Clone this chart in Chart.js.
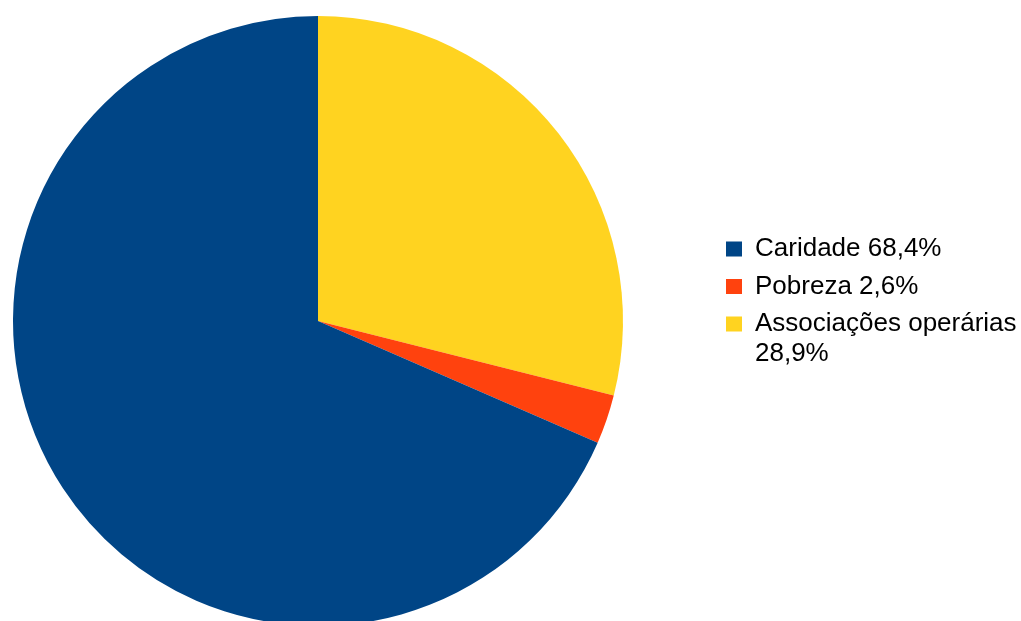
<!DOCTYPE html>
<html>
<head>
<meta charset="utf-8">
<script src="https://cdn.jsdelivr.net/npm/chart.js@4.4.0/dist/chart.umd.min.js"></script>
<style>
  html, body { margin: 0; padding: 0; background: #fff; overflow: hidden; }
  /* a bit taller than the window: the pie is cut off at the bottom in the original */
  #wrap { width: 1021px; height: 626px; position: relative; }
</style>
</head>
<body>
<div id="wrap"><canvas id="pieChart"></canvas></div>
<script>
// slices in clockwise order from 12 o'clock; legend is shown reversed
const categories = ['Associações operárias', 'Pobreza', 'Caridade'];
const shares = [28.9, 2.6, 68.4];
const sliceColors = ['#ffd320', '#ff420e', '#004586'];

function pctText(v) {
    return v.toFixed(1).replace('.', ',') + '%';
}

// the legend sits further right and a bit higher than Chart.js puts it
const legendNudge = {
    id: 'legendNudge',
    afterLayout(chart) {
        const lg = chart.legend;
        lg.left += 78.5;
        lg.right = chart.width;
        lg.width = lg.right - lg.left;
        lg.bottom -= 35;
    }
};

document.addEventListener('DOMContentLoaded', function () {
    const pieCtx = document.getElementById('pieChart');
    new Chart(pieCtx, {
        type: 'pie',
        data: {
            labels: categories,
            datasets: [{
                data: shares,
                backgroundColor: sliceColors,
                borderWidth: 0,
            }]
        },
        plugins: [legendNudge],
        options: {
            responsive: true,
            maintainAspectRatio: false,
            animation: false,
            layout: {
                padding: { top: 16, bottom: 0, left: 0, right: 135 }
            },
            plugins: {
                tooltip: { enabled: false },
                legend: {
                    position: 'right',
                    reverse: true,
                    maxWidth: 250,
                    labels: {
                        color: '#000',
                        boxWidth: 16,
                        boxHeight: 15,
                        padding: 11.5,
                        font: { family: '"Liberation Sans", Arial, sans-serif', size: 26, lineHeight: 1.15 },
                        generateLabels(chart) {
                            const items = Chart.overrides.pie.plugins.legend.labels.generateLabels(chart);
                            items.forEach(function (item) {
                                const name = categories[item.index];
                                const pct = pctText(shares[item.index]);
                                item.text = (name + ' ' + pct).length > 20 ? [name, pct] : name + ' ' + pct;
                                item.fontColor = '#000';
                            });
                            return items;
                        }
                    }
                }
            }
        }
    });
});
</script>
</body>
</html>
